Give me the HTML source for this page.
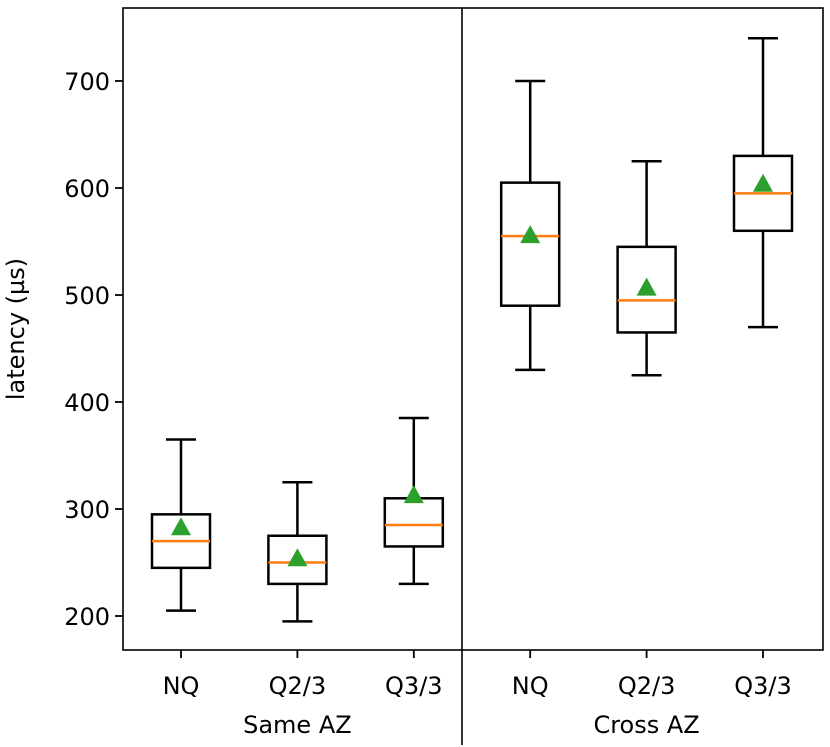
<!DOCTYPE html>
<html><head><meta charset="utf-8"><style>
html,body{margin:0;padding:0;background:#fff;}
svg{display:block;font-family:"DejaVu Sans","Liberation Sans",sans-serif;}
</style></head><body>
<svg id="chart" width="830" height="747" viewBox="0 0 830 747"></svg>
<script>
const categories = ["NQ","Q2/3","Q3/3","NQ","Q2/3","Q3/3"];
const groups = ["Same AZ","Cross AZ"];
const whiskerLow = [205,195,230,430,425,470];
const q1 = [245,230,265,490,465,560];
const medians = [270,250,285,555,495,595];
const q3 = [295,275,310,605,545,630];
const whiskerHigh = [365,325,385,700,625,740];
const means = [282,253,312,555,506,603];
const yTicks = [200,300,400,500,600,700];

const L=123,R=823,T=8,B=650;
const y = v => 616-(v-200)*1.07;
const x = i => 181 + i*116.4;
const NS="http://www.w3.org/2000/svg";
const svg=document.getElementById('chart');
function mk(tag,attrs,parent){const e=document.createElementNS(NS,tag);for(const k in attrs)e.setAttribute(k,attrs[k]);(parent||svg).appendChild(e);return e;}

const frame=mk('rect',{x:L,y:T,width:R-L,height:B-T,fill:'none',stroke:'#000','stroke-width':1.6});



const div=mk('line',{x1:462,x2:462,y1:T,y2:745,stroke:'#000','stroke-width':1.6});



yTicks.forEach(t=>{
  const g=mk('g',{});
  
  
  mk('line',{x1:L-8,x2:L,y1:y(t),y2:y(t),stroke:'#000','stroke-width':1.8},g);
  const tx=mk('text',{x:L-13,y:y(t)+9,'text-anchor':'end','font-size':24},g);
  tx.textContent=t;
});
const yl=mk('text',{x:24,y:(T+B)/2,'text-anchor':'middle','font-size':24,transform:`rotate(-90 24 ${(T+B)/2})`});
yl.textContent='latency (µs)';



categories.forEach((c,i)=>{
  const cx=x(i), hw=29, cw=15;
  const g=mk('g',{});
  
  
  const st={stroke:'#000','stroke-width':2.5,fill:'none'};
  mk('line',Object.assign({x1:cx,x2:cx,y1:y(whiskerLow[i]),y2:y(q1[i])},st),g);
  mk('line',Object.assign({x1:cx,x2:cx,y1:y(q3[i]),y2:y(whiskerHigh[i])},st),g);
  mk('line',Object.assign({x1:cx-cw,x2:cx+cw,y1:y(whiskerLow[i]),y2:y(whiskerLow[i])},st),g);
  mk('line',Object.assign({x1:cx-cw,x2:cx+cw,y1:y(whiskerHigh[i]),y2:y(whiskerHigh[i])},st),g);
  mk('rect',Object.assign({x:cx-hw,y:y(q3[i]),width:2*hw,height:y(q1[i])-y(q3[i])},st),g);
  mk('line',{x1:cx-hw,x2:cx+hw,y1:y(medians[i]),y2:y(medians[i]),stroke:'#ff7f0e','stroke-width':2.5},g);
  const my=y(means[i]);
  mk('polygon',{points:`${cx},${my-11} ${cx-10},${my+7} ${cx+10},${my+7}`,fill:'#2ca02c'},g);
  mk('line',{x1:cx,x2:cx,y1:B,y2:B+8,stroke:'#000','stroke-width':1.8},g);
  const t=mk('text',{x:cx,y:B+44,'text-anchor':'middle','font-size':24},g);
  t.textContent=c;
});
groups.forEach((gname,j)=>{
  const t=mk('text',{x:(x(j*3)+x(j*3+2))/2,y:733,'text-anchor':'middle','font-size':24});
  t.textContent=gname;
  
  
});
</script>
</body></html>
